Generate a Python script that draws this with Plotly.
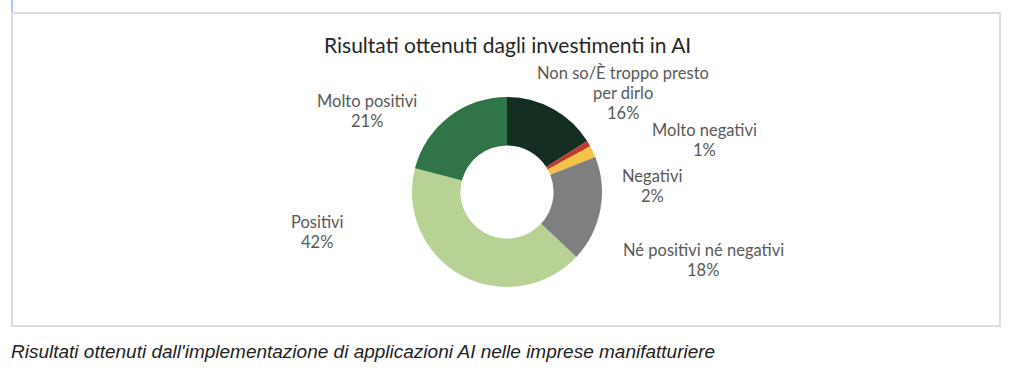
import plotly.graph_objects as go

W, H = 1024, 383

categories = ["Non so/È troppo presto per dirlo", "Molto negativi", "Negativi",
              "Né positivi né negativi", "Positivi", "Molto positivi"]
values = [16, 1, 2, 18, 42, 21]
label_lines = [["Non so/È troppo presto", "per dirlo"], ["Molto negativi"], ["Negativi"],
               ["Né positivi né negativi"], ["Positivi"], ["Molto positivi"]]
colors = ["#132d20", "#c0392b", "#f4c246", "#7f7f7f", "#b8d195", "#317448"]
# label anchor (centre of first line) in pixels
label_pos = [(623, 73), (704, 130), (652, 176), (703, 250), (317, 222), (367, 101)]

title = "Risultati ottenuti dagli investimenti in AI"
caption = "Risultati ottenuti dall'implementazione di applicazioni AI nelle imprese manifatturiere"


def px(x):
    return x / W


def py(y):
    return 1 - y / H


fig = go.Figure()
cx, cy, r = 507, 192, 95
fig.add_trace(go.Pie(
    labels=categories, values=values, sort=False, direction="clockwise", rotation=0,
    hole=0.49, textinfo="none", hoverinfo="label+percent",
    marker=dict(colors=colors, line=dict(color="white", width=0)),
    domain=dict(x=[px(cx - r), px(cx + r)], y=[py(cy + r), py(cy - r)]),
    showlegend=False,
))

total = sum(values)
annotations = []
lh = 20
for lines, v, (x, y) in zip(label_lines, values, label_pos):
    allines = lines + [f"{round(100 * v / total)}%"]
    for i, t in enumerate(allines):
        annotations.append(dict(
            x=px(x), y=py(y + i * lh), xref="paper", yref="paper", text=t,
            showarrow=False, xanchor="center", yanchor="middle",
            font=dict(family="Lato", size=16.5, color="#595959")))

annotations.append(dict(x=px(507), y=py(44), xref="paper", yref="paper", text=title,
                        showarrow=False, xanchor="center", yanchor="middle",
                        font=dict(family="Lato", size=21, color="#262626")))
annotations.append(dict(x=px(9), y=py(351), xref="paper", yref="paper", text=f"<i>{caption}</i>",
                        showarrow=False, xanchor="left", yanchor="middle",
                        font=dict(family="Liberation Sans", size=19, color="#222222")))

shapes = [
    dict(type="rect", xref="paper", yref="paper", x0=px(12), x1=px(1000), y0=py(326), y1=py(13),
         line=dict(color="#dddddd", width=2), fillcolor="rgba(0,0,0,0)"),
    dict(type="line", xref="paper", yref="paper", x0=px(12), x1=px(12), y0=py(0), y1=py(12),
         line=dict(color="#a9c9f2", width=2)),
]

fig.update_layout(width=W, height=H, margin=dict(l=0, r=0, t=0, b=0),
                  paper_bgcolor="white", plot_bgcolor="white",
                  annotations=annotations, shapes=shapes)

fig.write_html("out.html", config={"displayModeBar": False},
               post_script="document.body.style.margin='0px';document.body.style.overflow='hidden';")
